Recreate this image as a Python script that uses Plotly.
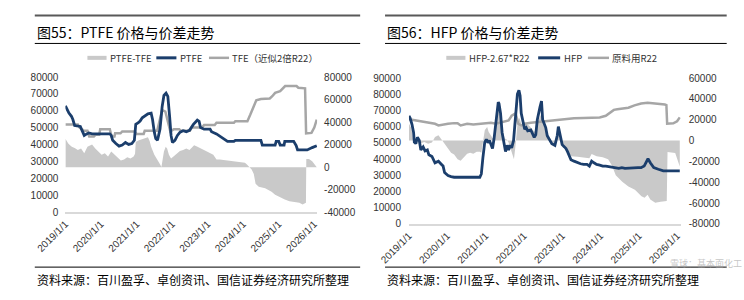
import pandas as pd
import plotly.graph_objects as go

# ---------------- data (decimal years -> values) ----------------
ptfe_t = [2019.00, 2019.04, 2019.10, 2019.17, 2019.21, 2019.26, 2019.42, 2019.47, 2019.53, 2019.60, 2019.66, 2019.75,
          2020.25, 2020.29, 2020.33, 2020.42, 2020.51, 2020.60, 2020.69, 2020.78, 2020.87, 2020.94, 2020.98, 2021.05,
          2021.10, 2021.16, 2021.23, 2021.32, 2021.41, 2021.45, 2021.50, 2021.54, 2021.59, 2021.66, 2021.72, 2021.77,
          2021.83, 2021.88, 2021.93, 2021.97, 2022.01, 2022.08, 2022.15, 2022.22, 2022.31, 2022.40, 2022.49, 2022.60,
          2022.71, 2022.76, 2022.80, 2022.90, 2023.07, 2023.11, 2023.25, 2023.34, 2023.47, 2023.56, 2023.74, 2023.78,
          2024.50, 2024.54, 2024.90, 2024.93, 2025.00, 2025.04, 2025.15, 2025.17, 2025.42, 2025.49, 2025.53, 2025.80,
          2025.94, 2026.07]
ptfe_v = [63000, 61000, 58700, 56800, 54900, 51300, 50800, 48300, 45500, 46400, 47000, 46400,
          46400, 45500, 42600, 40700, 39200, 39800, 41300, 40200, 40700, 42600, 52100, 53000,
          54000, 55900, 56800, 58300, 58700, 54900, 47300, 43600, 42600, 49200, 62500, 69100,
          70500, 68600, 56800, 45500, 41300, 42600, 45500, 47300, 48300, 47700, 48500, 52000,
          54500, 53800, 50200, 49200, 49200, 47700, 46400, 45100, 43200, 42000, 42000, 42600,
          42600, 39800, 39800, 42000, 42000, 39800, 39800, 42000, 42000, 39500, 36900, 36900,
          38300, 39400]

tfe_t = [2019.00, 2019.35, 2019.40, 2019.52, 2019.62, 2019.67, 2019.80, 2019.85, 2019.95, 2019.98, 2020.25, 2020.30,
         2020.38, 2020.40, 2020.55, 2020.60, 2020.95, 2021.00, 2021.20, 2021.23, 2021.58, 2021.64, 2021.72, 2021.81,
         2021.88, 2021.95, 2022.05, 2022.20, 2022.25, 2022.50, 2022.55, 2022.84, 2022.90, 2023.20, 2023.25, 2023.74,
         2023.78, 2024.12, 2024.20, 2024.28, 2024.37, 2024.50, 2024.75, 2024.82, 2024.90, 2025.04, 2025.12, 2025.18,
         2025.50, 2025.55, 2025.74, 2025.77, 2025.92, 2026.00, 2026.07]
tfe_v = [38000, 38000, 35200, 32300, 32300, 27200, 27200, 28900, 28900, 33800, 33800, 27200,
         27200, 30100, 30100, 31800, 31800, 29500, 29500, 32300, 32300, 40900, 50800, 49400,
         40900, 31800, 33800, 33800, 32300, 32300, 35200, 35200, 37400, 37400, 39400, 39400,
         40900, 40900, 46500, 52200, 59300, 60500, 61000, 63000, 66000, 67500, 70600, 72000,
         72000, 70500, 70000, 30000, 30500, 35200, 42300]

ptfe_sp_t = [2019.00, 2019.04, 2019.08, 2019.13, 2019.18, 2019.26, 2019.35, 2019.44, 2019.49, 2019.53, 2019.62, 2019.71,
             2019.75, 2019.84, 2019.93, 2020.02, 2020.11, 2020.20, 2020.29, 2020.38, 2020.47, 2020.56, 2020.65, 2020.74,
             2020.83, 2020.92, 2020.96, 2020.98, 2021.05, 2021.14, 2021.23, 2021.32, 2021.37, 2021.41, 2021.50, 2021.59,
             2021.66, 2021.70, 2021.74, 2021.77, 2021.82, 2021.86, 2021.91, 2021.97, 2022.04, 2022.13, 2022.22, 2022.31,
             2022.40, 2022.49, 2022.62, 2022.70, 2022.80, 2022.98, 2023.16, 2023.25, 2023.34, 2023.52, 2023.70, 2023.88,
             2024.05, 2024.10, 2024.18, 2024.24, 2024.30, 2024.35, 2024.44, 2024.53, 2024.62, 2024.71, 2024.80, 2024.90,
             2024.98, 2025.08, 2025.17, 2025.30, 2025.44, 2025.58, 2025.67, 2025.74, 2025.765, 2025.775, 2025.85, 2025.94,
             2026.03, 2026.07]
ptfe_sp_v = [25200, 22400, 21000, 19600, 18200, 17000, 15300, 16700, 14000, 12500, 18200, 19600,
             20100, 16700, 13900, 11100, 12500, 9600, 13900, 11100, 8200, 6000, 6800, 8800,
             7700, 9600, 12000, 22400, 23800, 24700, 25200, 26700, 23000, 18200, 11100, 6800,
             2600, 300, 8000, 13900, 18200, 16700, 11100, 7700, 9600, 12500, 14500, 15300,
             16700, 15300, 19600, 18500, 16700, 13900, 11100, 6800, 6800, 6000, 5000, 4300,
             4000, 2600, -300, -2000, -6000, -14500, -17300, -17900, -18700, -20100, -21600, -24400,
             -25800, -27200, -28600, -30100, -30900, -31500, -32900, -31500, -31500, 7400, 7400, 5400,
             1100, 0]

hfp_t = [2019.00, 2019.03, 2019.08, 2019.12, 2019.14, 2019.18, 2019.22, 2019.27, 2019.31, 2019.37, 2019.42, 2019.48,
         2019.52, 2019.60, 2019.68, 2019.77, 2019.85, 2019.89, 2019.93, 2020.02, 2020.10, 2020.18, 2020.85, 2020.89,
         2020.93, 2020.98, 2021.02, 2021.06, 2021.10, 2021.14, 2021.18, 2021.22, 2021.28, 2021.33, 2021.35, 2021.39,
         2021.43, 2021.48, 2021.52, 2021.56, 2021.60, 2021.64, 2021.68, 2021.73, 2021.78, 2021.83, 2021.87, 2021.90,
         2021.93, 2021.98, 2022.02, 2022.06, 2022.10, 2022.18, 2022.23, 2022.27, 2022.31, 2022.35, 2022.42, 2022.46,
         2022.49, 2022.53, 2022.57, 2022.61, 2022.67, 2022.73, 2022.81, 2022.87, 2022.90, 2022.95, 2023.00, 2023.06,
         2023.10, 2023.14, 2023.19, 2023.23, 2023.31, 2023.40, 2023.48, 2023.56, 2023.65, 2023.71, 2023.77, 2023.83,
         2023.90, 2023.98, 2024.06, 2024.14, 2024.23, 2024.31, 2024.39, 2024.48, 2024.56, 2024.64, 2024.98, 2025.06,
         2025.14, 2025.20, 2025.24, 2025.30, 2025.39, 2025.51, 2025.64, 2026.07]
hfp_v = [66700, 65300, 61300, 56400, 50500, 49500, 53400, 51500, 45600, 47500, 45000, 45600,
         42600, 41600, 37700, 38700, 36700, 35700, 31700, 29800, 29200, 28800, 28800, 30800,
         40600, 50500, 52100, 50100, 51500, 48500, 46500, 52500, 64300, 75100, 74100, 68200,
         56400, 48500, 44600, 48500, 45600, 48500, 46900, 51500, 64300, 80100, 82400, 79100,
         68200, 61300, 58400, 59400, 57400, 58000, 55400, 53400, 55000, 64300, 72000, 75700,
         64300, 62300, 59400, 54400, 51500, 49500, 48500, 54400, 60000, 54400, 48900, 47500,
         46500, 44600, 41600, 39600, 38700, 37700, 37100, 36700, 36700, 35700, 38700, 37700,
         36700, 36300, 35700, 35700, 35300, 35300, 34700, 34300, 34700, 34300, 34700, 34700,
         35700, 38700, 40200, 37700, 34700, 33700, 32700, 32700]

r22_t = [2019.00, 2019.10, 2019.27, 2019.43, 2019.60, 2019.68, 2019.77, 2019.85, 2020.02, 2020.18, 2020.27, 2020.35,
         2020.52, 2020.68, 2020.85, 2021.02, 2021.14, 2021.27, 2021.43, 2021.60, 2021.68, 2021.73, 2021.78, 2021.81,
         2021.85, 2021.93, 2022.02, 2022.18, 2022.35, 2022.52, 2022.69, 2022.89, 2023.06, 2023.31, 2023.56, 2023.81,
         2023.98, 2024.14, 2024.27, 2024.35, 2024.44, 2024.56, 2024.73, 2024.89, 2025.06, 2025.23, 2025.40, 2025.56,
         2025.68, 2025.72, 2025.74, 2025.90, 2026.00, 2026.07]
r22_v = [20500, 19800, 19200, 18200, 17000, 16100, 14500, 15100, 16100, 16700, 16700, 14500,
         16100, 15500, 15800, 16100, 17000, 16100, 17600, 19200, 23800, 25300, 26000, 22200,
         16100, 14500, 16100, 17000, 17600, 18200, 19200, 20100, 20700, 21300, 21600, 21600,
         22200, 23800, 26900, 29400, 30000, 30600, 31500, 33700, 35500, 36200, 35500, 35500,
         34600, 34000, 16100, 16500, 18500, 22200]

hfp_sp_t = [2019.00, 2019.06, 2019.10, 2019.14, 2019.22, 2019.31, 2019.40, 2019.50, 2019.60, 2019.68, 2019.77, 2019.85,
            2019.90, 2019.95, 2020.02, 2020.10, 2020.18, 2020.27, 2020.35, 2020.43, 2020.52, 2020.60, 2020.68, 2020.77,
            2020.85, 2020.89, 2020.93, 2020.98, 2021.04, 2021.08, 2021.16, 2021.20, 2021.25, 2021.33, 2021.36, 2021.40,
            2021.45, 2021.50, 2021.55, 2021.60, 2021.65, 2021.70, 2021.74, 2021.78, 2021.83, 2021.87, 2021.90, 2021.94,
            2022.00, 2022.06, 2022.15, 2022.23, 2022.30, 2022.35, 2022.46, 2022.50, 2022.57, 2022.63, 2022.70, 2022.80,
            2022.87, 2022.90, 2022.95, 2023.00, 2023.08, 2023.15, 2023.23, 2023.40, 2023.56, 2023.71, 2023.77, 2023.90,
            2024.06, 2024.20, 2024.30, 2024.40, 2024.57, 2024.73, 2024.90, 2025.07, 2025.15, 2025.23, 2025.30, 2025.43,
            2025.57, 2025.73, 2025.75, 2025.95, 2026.07]
hfp_sp_v = [16000, 12000, 3000, -1500, 1500, -2500, -1500, -3000, -2000, 3500, 5000, 1000,
            -2000, -4000, -7100, -11700, -13300, -17900, -19500, -16400, -12700, -11700, -12700, -10800,
            -10800, -11700, -3000, 9900, 13000, 8300, 3700, 1000, 10000, 30000, 28000, 20000,
            8000, 2000, 1000, -2000, -8000, -15000, -18000, -5000, 15000, 22000, 20000, 15000,
            18000, 16000, 14000, 10000, 8000, 17000, 26000, 16000, 10000, 5000, 0, -3000,
            2000, 6000, 1000, -4000, -6000, -10000, -15000, -15500, -16000, -17000, -13000, -15000,
            -16000, -18000, -24000, -33300, -39500, -44100, -47300, -53400, -55000, -52000, -56500, -59600,
            -58700, -58100, -11000, -12000, -25000]

tick_dates = ["2019-01-01", "2020-01-01", "2021-01-01", "2022-01-01", "2023-01-01", "2024-01-01", "2025-01-01", "2026-01-01"]
tick_text = ["2019/1/1", "2020/1/1", "2021/1/1", "2022/1/1", "2023/1/1", "2024/1/1", "2025/1/1", "2026/1/1"]

left_ticks_l = [0, 10000, 20000, 30000, 40000, 50000, 60000, 70000, 80000]
left_ticks_r = [-40000, -20000, 0, 20000, 40000, 60000, 80000]
right_ticks_l = [0, 10000, 20000, 30000, 40000, 50000, 60000, 70000, 80000, 90000]
right_ticks_r = [-80000, -60000, -40000, -20000, 0, 20000, 40000, 60000]


def to_dates(ts):
    out = []
    for t in ts:
        y = int(t)
        out.append(pd.Timestamp(y, 1, 1) + pd.Timedelta(days=(t - y) * 365.25))
    return out


def labels(vals):
    return [str(v) for v in vals]


W, H = 744, 300
def px(x):
    return x / W
def py(y):
    return 1 - y / H

BLUE = "#1b3e6c"
GRAY = "#a6a6a6"
LIGHT = "#c9c9c9"
CJK = "Noto Sans CJK SC"

fig = go.Figure()

# ---- left chart ----
fig.add_trace(go.Scatter(x=to_dates(ptfe_sp_t), y=ptfe_sp_v, name="PTFE-TFE", mode="lines",
                         line=dict(width=0, color=LIGHT), fill="tozeroy", fillcolor=LIGHT,
                         xaxis="x", yaxis="y"))
fig.add_trace(go.Scatter(x=to_dates(tfe_t), y=tfe_v, name="TFE（近似2倍R22）", mode="lines",
                         line=dict(width=2.5, color=GRAY), xaxis="x", yaxis="y"))
fig.add_trace(go.Scatter(x=to_dates(ptfe_t), y=ptfe_v, name="PTFE", mode="lines",
                         line=dict(width=2.8, color=BLUE), xaxis="x", yaxis="y2"))

# ---- right chart ----
fig.add_trace(go.Scatter(x=to_dates(hfp_sp_t), y=hfp_sp_v, name="HFP-2.67*R22", mode="lines",
                         line=dict(width=0, color=LIGHT), fill="tozeroy", fillcolor=LIGHT,
                         xaxis="x2", yaxis="y3"))
fig.add_trace(go.Scatter(x=to_dates(r22_t), y=r22_v, name="原料用R22", mode="lines",
                         line=dict(width=2.5, color=GRAY), xaxis="x2", yaxis="y3"))
fig.add_trace(go.Scatter(x=to_dates(hfp_t), y=hfp_v, name="HFP", mode="lines",
                         line=dict(width=2.8, color=BLUE), xaxis="x2", yaxis="y4"))

tickfont = dict(family="Arial", size=10, color="#333333")

xcommon = dict(type="date", tickmode="array", tickvals=tick_dates, ticktext=tick_text, tickangle=-45,
               tickfont=tickfont, showgrid=False, zeroline=False, showline=True, linecolor="#d9d9d9",
               linewidth=2, ticks="")
ycommon = dict(showgrid=False, zeroline=False, showline=False, ticks="", tickfont=tickfont, tickmode="array")

fig.update_layout(
    width=W, height=H, margin=dict(l=0, r=0, t=0, b=0), paper_bgcolor="white", plot_bgcolor="white",
    showlegend=False,
    xaxis=dict(xcommon, domain=[px(37), px(300)], range=["2019-01-01", "2026-01-30"], anchor="y"),
    yaxis=dict(ycommon, domain=[py(215), py(74)], range=[-40000, 80000], tickvals=left_ticks_r,
               ticktext=labels(left_ticks_r), side="right", anchor="x", ticklabelstandoff=6),
    yaxis2=dict(ycommon, domain=[py(215), py(74)], range=[0, 80000], tickvals=left_ticks_l,
                ticktext=labels(left_ticks_l), side="left", overlaying="y", anchor="x", ticklabelstandoff=6),
    xaxis2=dict(xcommon, domain=[px(396), px(680)], range=["2019-01-01", "2026-02-05"], anchor="y3"),
    yaxis3=dict(ycommon, domain=[py(227), py(75)], range=[-80000, 60000], tickvals=right_ticks_r,
                ticktext=labels(right_ticks_r), side="right", anchor="x2", ticklabelstandoff=7),
    yaxis4=dict(ycommon, domain=[py(227), py(75)], range=[0, 90000], tickvals=right_ticks_l,
                ticktext=labels(right_ticks_l), side="left", overlaying="y3", anchor="x2", ticklabelstandoff=7),
)

shapes = []
annots = []

def hline(x0, x1, y, color, width):
    shapes.append(dict(type="line", xref="paper", yref="paper", x0=px(x0), x1=px(x1), y0=py(y), y1=py(y),
                       line=dict(color=color, width=width)))

def text(x, y, s, size, color="black", anchor="left", family=CJK):
    annots.append(dict(xref="paper", yref="paper", x=px(x), y=py(y), text=s, showarrow=False,
                       xanchor=anchor, yanchor="middle", font=dict(family=family, size=size, color=color)))

for (l, r) in [(5, 345), (371, 728)]:
    hline(l, r, 10, "#595959", 2)
    hline(l, r, 39, "black", 1)
    hline(l, r, 272, "black", 1)

text(5, 27, "图55：PTFE 价格与价差走势", 14)
text(371, 27, "图56：HFP 价格与价差走势", 14)
text(5, 285, "资料来源：百川盈孚、卓创资讯、国信证券经济研究所整理", 12)
text(371, 285, "资料来源：百川盈孚、卓创资讯、国信证券经济研究所整理", 12)

# legends
leg = [
    (60, 80, LIGHT, 4, "PTFE-TFE"),
    (132, 153, BLUE, 3, "PTFE"),
    (187, 208, GRAY, 2.5, "TFE（近似2倍R22）"),
    (435, 455, LIGHT, 4, "HFP-2.67*R22"),
    (531, 554, BLUE, 3, "HFP"),
    (583, 605, GRAY, 2.5, "原料用R22"),
]
for x0, x1, c, w, s in leg:
    hline(x0, x1, 54, c, w)
    text(x1 + 1.5, 54, s, 9.5, color="#333333")

# faint watermark of the source image (kept small so it stays clear of other texts)
text(706, 268.5, "雪球：基本面化工", 9, color="rgba(160,160,160,0.6)", anchor="center")

fig.update_layout(shapes=shapes, annotations=annots)
fig.write_html("out.html")
